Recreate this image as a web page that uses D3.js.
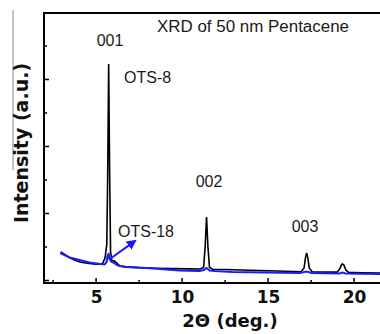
<!DOCTYPE html>
<html>
<head>
<meta charset="utf-8">
<script src="https://cdn.jsdelivr.net/npm/d3@7"></script>
<style>
    body { margin: 0; background: #fff; }
    svg { display: block; }
    .lbl { font-family: "Liberation Sans", Arial, sans-serif; font-size: 16px; fill: #1a1a1a; }
    .bold { font-family: "DejaVu Sans", sans-serif; font-weight: bold; fill: #111; }
</style>
</head>
<body>
<svg id="chart" width="380" height="334"></svg>
<script>
// 2theta (deg) / intensity (counts)
var ots8 = [
    [2.97, 420], [3.2, 380], [3.5, 330], [3.8, 295], [4.1, 268], [4.5, 250], [5.0, 235],
    [5.4, 240], [5.55, 330], [5.65, 530], [5.70, 1500], [5.76, 3225], [5.82, 1500],
    [5.87, 420], [5.95, 290], [6.1, 282], [6.25, 250], [6.4, 212], [6.7, 196],
    [7.5, 184], [8.5, 176], [9.5, 170], [10.5, 166], [11.1, 164], [11.28, 190],
    [11.37, 500], [11.45, 940], [11.53, 500], [11.62, 190], [11.8, 160], [12.5, 156],
    [13.5, 150], [14.5, 142], [15.5, 134], [16.5, 126], [16.95, 122], [17.12, 180],
    [17.2, 330], [17.27, 405], [17.34, 330], [17.42, 180], [17.6, 121], [18.5, 117],
    [19.05, 118], [19.2, 170], [19.3, 230], [19.36, 240], [19.44, 220], [19.55, 150],
    [19.7, 114], [20.5, 108], [21.6, 104]
];
var ots18 = [
    [2.95, 403], [3.49, 336], [4.07, 299], [4.65, 261], [5.06, 246], [5.52, 231],
    [5.64, 269], [5.70, 373], [5.76, 388], [5.81, 313], [5.93, 269], [6.10, 254],
    [6.22, 224], [6.40, 209], [6.80, 194], [7.97, 179], [9.88, 142], [11.05, 134],
    [11.28, 149], [11.45, 179], [11.63, 142], [11.92, 134], [12.97, 119], [16.86, 104],
    [17.27, 127], [17.56, 104], [19.19, 97], [19.36, 112], [19.53, 97], [21.6, 90]
];
var xMajor = [5, 10, 15, 20];
var xMinor = [2.5, 7.5, 12.5, 17.5];
var yMajor = [0, 1000, 2000, 3000];
var yMinor = [500, 1500, 2500, 3500];
var arrowFrom = [5.81, 310];
var arrowTo = [7.2, 565];

var svg = d3.select('#chart');
var x = d3.scaleLinear().domain([2, 22]).range([44, 388]);
var y = d3.scaleLinear().domain([-45, 3985]).range([283, 13]);

// stray crop line at far left
svg.append('line').attr('x1', 13).attr('x2', 13).attr('y1', 10).attr('y2', 170)
    .attr('stroke', '#888').attr('stroke-width', 1);

var line = d3.line().x(function (d) { return x(d[0]); }).y(function (d) { return y(d[1]); });

svg.append('path').datum(ots8).attr('d', line)
    .attr('fill', 'none').attr('stroke', '#000').attr('stroke-width', 1.6);
svg.append('path').datum(ots18).attr('d', line)
    .attr('fill', 'none').attr('stroke', '#1a1aff').attr('stroke-width', 2);

// axes (ticks point inward)
var gx = svg.append('g').attr('transform', 'translate(0,283)');
gx.call(d3.axisBottom(x).tickValues(xMajor).tickSize(-5).tickFormat(''));
var gxm = svg.append('g').attr('transform', 'translate(0,283)');
gxm.call(d3.axisBottom(x).tickValues(xMinor).tickSize(-3).tickFormat(''));
var gy = svg.append('g').attr('transform', 'translate(44,0)');
gy.call(d3.axisLeft(y).tickValues(yMajor).tickSize(-5).tickFormat(''));
var gym = svg.append('g').attr('transform', 'translate(44,0)');
gym.call(d3.axisLeft(y).tickValues(yMinor).tickSize(-3).tickFormat(''));
svg.selectAll('.domain').remove();
svg.selectAll('.tick line').attr('stroke', '#000').attr('stroke-width', 1.5);

svg.append('line').attr('x1', 43).attr('x2', 380).attr('y1', 283).attr('y2', 283)
    .attr('stroke', '#000').attr('stroke-width', 2);
svg.append('line').attr('x1', 44).attr('x2', 44).attr('y1', 12).attr('y2', 284)
    .attr('stroke', '#000').attr('stroke-width', 2);
svg.append('line').attr('x1', 43).attr('x2', 380).attr('y1', 13).attr('y2', 13)
    .attr('stroke', '#000').attr('stroke-width', 2);

svg.selectAll('.xlab').data(xMajor).enter().append('text')
    .attr('class', 'bold').attr('x', function (d) { return x(d) + 1; }).attr('y', 303)
    .attr('text-anchor', 'middle').style('font-size', '17px')
    .text(function (d) { return d; });

svg.append('text').attr('class', 'bold').attr('x', 230).attr('y', 327)
    .attr('text-anchor', 'middle').style('font-size', '18px').text('2\u0398 (deg.)');
svg.append('text').attr('class', 'bold')
    .attr('transform', 'translate(28,143) rotate(-90)')
    .attr('text-anchor', 'middle').style('font-size', '19px').text('Intensity (a.u.)');

// annotations
svg.append('text').attr('class', 'lbl').attr('x', 157).attr('y', 32)
    .attr('textLength', 192).attr('lengthAdjust', 'spacingAndGlyphs')
    .text('XRD of 50 nm Pentacene');
svg.append('text').attr('class', 'lbl').attr('x', 110).attr('y', 46)
    .attr('text-anchor', 'middle').text('001');
svg.append('text').attr('class', 'lbl').attr('x', 124).attr('y', 83).text('OTS-8');
svg.append('text').attr('class', 'lbl').attr('x', 209).attr('y', 187)
    .attr('text-anchor', 'middle').text('002');
svg.append('text').attr('class', 'lbl').attr('x', 305).attr('y', 232)
    .attr('text-anchor', 'middle').text('003');
svg.append('text').attr('class', 'lbl').attr('x', 118).attr('y', 237).text('OTS-18');

svg.append('defs').append('marker').attr('id', 'head')
    .attr('viewBox', '0 0 10 10').attr('refX', 6).attr('refY', 5)
    .attr('markerWidth', 5).attr('markerHeight', 5).attr('orient', 'auto')
    .append('path').attr('d', 'M0,0L10,5L0,10z').attr('fill', '#1a1aff');
svg.append('line')
    .attr('x1', x(arrowFrom[0])).attr('y1', y(arrowFrom[1]))
    .attr('x2', x(arrowTo[0])).attr('y2', y(arrowTo[1]))
    .attr('stroke', '#1a1aff').attr('stroke-width', 2).attr('marker-end', 'url(#head)');
</script>
</body>
</html>
